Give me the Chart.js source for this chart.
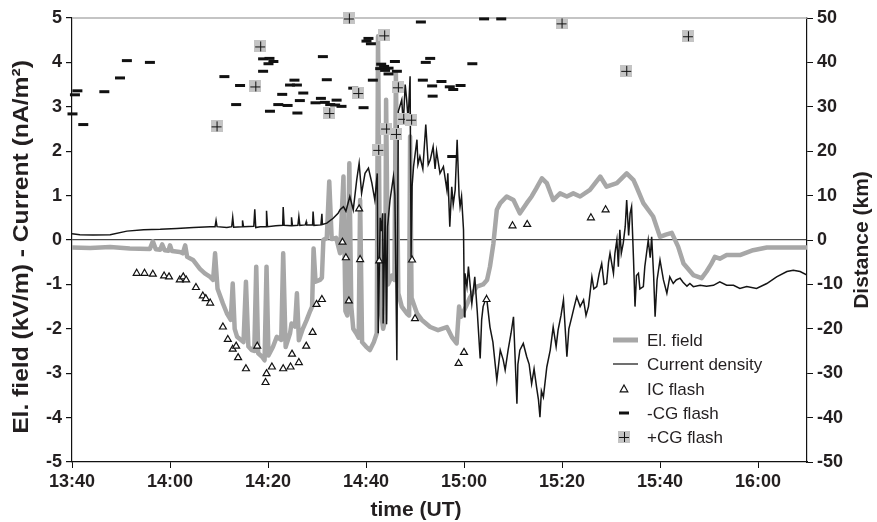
<!DOCTYPE html>
<html>
<head>
<meta charset="utf-8">
<title>El. field and current density</title>
<script src="https://cdn.jsdelivr.net/npm/chart.js@4.4.1/dist/chart.umd.min.js"></script>
<style>
  html, body { margin: 0; padding: 0; background: #fff; }
  #wrap { width: 877px; height: 522px; position: relative; }
</style>
</head>
<body>
<div id="wrap"><canvas id="mycanvas"></canvas></div>
<script>
// time is kept as minutes after 13:40 UT
var T0 = 13 * 60 + 40;
var timeTicks = [0, 20, 40, 60, 80, 100, 120, 140];

// electric field (kV/m)
var fieldTime = [0, 3.7, 7.8, 11.8, 15.9, 16.5, 17.1, 18.0, 18.4, 18.9, 19.7, 20.0, 20.4, 22.0, 22.6, 23.1, 23.5,
  24.7, 26.1, 27.1, 28.2, 28.8, 29.2, 29.7, 30.8, 31.6, 32.4, 32.8, 33.2, 33.7, 35.0, 35.5, 36.0, 36.7, 37.2,
  37.6, 38.0, 38.8, 39.3, 39.7, 40.1, 41.0, 41.8, 42.7, 43.1, 43.6, 44.5, 44.8, 45.5, 45.9, 46.3, 47.1, 47.9,
  48.6, 49.0, 49.3, 49.7, 50.6, 51.0, 51.3, 52.0, 52.5, 53.0, 53.9, 54.7, 55.4, 55.8, 56.2, 56.6, 57.0, 57.4,
  58.0, 58.5, 58.8, 59.2, 60.0, 60.8, 61.6, 62.2, 62.45, 62.9, 63.5, 63.9, 64.1, 64.5, 65.3, 65.8, 66.1, 66.6,
  67.3, 68.3, 68.8, 69.0, 69.3, 69.7, 70.4, 71.4, 73.1, 74.7, 76.5, 77.6, 78.5, 79.0, 79.4, 80.4, 81.2, 82.6,
  83.9, 84.7, 85.3, 86.0, 86.7, 87.4, 88.7, 90.1, 91.4, 92.8, 93.8, 94.7, 95.9, 96.9, 98.2, 99.6, 101.0, 102.3,
  103.7, 105.7, 107.8, 109.1, 111.2, 113.2, 114.6, 115.2, 116.6, 118.6, 120.0, 121.2, 122.4, 123.7, 124.8,
  126.8, 128.5, 129.5, 130.4, 131.2, 132.2, 133.6, 136.3, 139.0, 141.8, 145.7, 150];
var fieldValue = [-0.17, -0.18, -0.16, -0.19, -0.2, -0.03, -0.21, -0.22, -0.1, -0.23, -0.24, -0.12, -0.25, -0.27, -0.3, -0.12, -0.38,
  -0.45, -0.65, -0.75, -0.83, -0.9, -0.3, -1.1, -1.43, -1.65, -1.8, -0.98, -2.0, -2.18, -2.3, -0.94, -2.4, -2.48, -2.5,
  -0.6, -2.55, -2.63, -2.71, -0.6, -2.6, -2.41, -2.18, -2.25, -0.3, -2.41, -2.1, -1.88, -1.95, -1.2, -2.26, -2.0, -1.8,
  -1.6, -1.5, -0.19, -0.94, -0.9, -0.85, 0.0, 0.05, 1.32, 0.02, 0.05, -0.3, 1.43, -1.6, -1.7, 1.73, -1.5, -2.0,
  -2.1, -2.2, 0.9, -2.3, -2.4, -2.48, -2.3, -2.1, 4.59, -1.5, -2.0, -1.8, 3.16, -1.0, -0.8, -0.9, 3.76, -1.2,
  -1.5, -1.65, -1.7, 2.33, -1.3, -1.43, -1.65, -1.8, -1.96, -2.03, -1.96, -2.2, -2.33, -1.5, -1.73, -1.5, -1.3, -1.05,
  -1.0, -0.9, -0.6, -0.08, 0.68, 0.83, 0.98, 0.9, 0.6, 0.83, 0.98, 1.15, 1.39, 1.28, 0.9, 1.05, 0.98, 1.05,
  0.98, 1.13, 1.43, 1.2, 1.28, 1.5, 1.35, 1.2, 0.83, 0.53, 0.07, 0.12, 0.16, -0.15, -0.53,
  -0.79, -0.86, -0.71, -0.55, -0.38, -0.42, -0.34, -0.34, -0.23, -0.17, -0.17, -0.17];

// current density (nA/m2)
var currentTime = [0, 1.6, 4.3, 7.8, 11.2, 14.6, 18.0, 21.4, 24.8, 28.2, 29.2, 29.4, 29.6, 31.6, 32.6, 32.8, 33.0,
  34.7, 34.8, 35.0, 37.1, 37.3, 37.5, 38.4, 39.6, 39.7, 39.9, 41.6, 43.0, 43.1, 43.3, 44.7, 44.8, 45.0, 46.1,
  46.3, 46.5, 47.6, 47.8, 47.9, 49.1, 49.2, 49.4, 50.8, 51.0, 51.1, 52.0, 53.3, 54.3, 54.7, 55.4, 55.9, 56.7,
  57.4, 58.1, 58.6, 59.1, 59.8, 60.5, 61.2, 61.8, 62.3, 62.5, 62.9, 63.1, 63.4, 63.5, 63.9, 64.2, 64.4, 64.9,
  65.6, 65.9, 66.3, 66.6, 67.3, 67.6, 68.0, 68.3, 68.6, 69.0, 69.2, 69.4, 69.7, 70.4, 70.6, 71.0, 71.6, 72.2,
  72.7, 73.1, 73.7, 74.1, 74.4, 75.1, 75.8, 76.5, 76.7, 77.1, 77.5, 77.8, 78.2, 78.6, 79.0, 79.2, 79.5, 79.9,
  80.1, 80.2, 80.6, 80.9, 81.6, 82.2, 82.7, 83.3, 83.6, 83.9, 84.6, 85.3, 85.9, 86.7, 87.4, 88.0, 88.4, 89.0,
  89.6, 90.1, 90.8, 91.0, 91.4, 92.1, 92.8, 93.3, 93.8, 94.3, 94.8, 95.2, 95.5, 95.8, 96.2, 96.9, 97.6, 98.2,
  98.8, 99.2, 99.8, 100.3, 101.0, 101.4, 102.0, 102.5, 103.0, 103.7, 104.4, 104.9, 105.4, 106.1, 106.5, 107.1,
  107.6, 108.1, 108.6, 109.1, 109.5, 109.8, 110.5, 110.8, 111.2, 111.5, 111.8, 112.1, 112.5, 112.9, 113.2,
  113.6, 113.9, 114.2, 114.6, 114.9, 115.2, 115.6, 115.9, 116.6, 116.9, 117.6, 118.0, 118.3, 118.7, 119.0,
  119.4, 120.0, 120.7, 121.4, 122.0, 122.7, 123.3, 124.1, 124.7, 125.5, 126.1, 126.8, 128.2, 129.5, 130.9,
  132.2, 133.6, 135.0, 136.3, 137.7, 139.7, 141.8, 143.8, 145.9, 147.2, 148.6, 150];
var currentValue = [0.14, 0.12, 0.11, 0.12, 0.2, 0.23, 0.24, 0.26, 0.28, 0.3, 0.3, 0.44, 0.3, 0.28, 0.3, 0.51, 0.29,
  0.3, 0.44, 0.3, 0.31, 0.69, 0.28, 0.3, 0.3, 0.66, 0.3, 0.32, 0.33, 0.74, 0.33, 0.32, 0.51, 0.32, 0.33,
  0.53, 0.33, 0.34, 0.41, 0.34, 0.34, 0.64, 0.33, 0.34, 0.59, 0.35, 0.38, 0.49, 0.6, 0.68, 0.75, 0.65, 0.98,
  0.68, 1.35, 1.73, 1.05, 1.5, 1.62, 1.28, 0.9, 1.5, -2.1, 0.5, 0.2, 0.6, -1.88, 0.6, -1.9, 0.3, 0.9,
  1.43, 1.0, -2.71, 2.9, 3.16, 2.6, 3.5, 3.16, 2.7, 3.69, -0.38, 1.2, 1.65, 2.26, 1.7, 1.88, 1.6, 2.6,
  1.7, 1.8, 2.1, 1.6, 2.0, 1.5, 1.65, 1.13, 1.5, 0.3, 1.2, 0.8, 1.13, 2.26, 1.0, 0.75, 0.98, 0.23,
  -1.73, -0.75, -1.05, -0.6, -1.43, -0.83, -1.6, -2.67, -1.8, -1.5, -1.28, -1.96, -2.3, -3.16, -2.48, -2.7, -2.93, -2.48,
  -2.1, -1.73, -3.69, -2.8, -2.48, -2.33, -2.63, -2.8, -3.24, -2.9, -3.31, -3.6, -3.99, -3.4, -3.54, -2.86, -2.48, -1.96,
  -2.4, -2.03, -1.7, -1.35, -2.63, -2.0, -1.73, -1.5, -1.28, -1.5, -1.35, -1.7, -1.5, -0.83, -1.1, -1.05,
  -0.75, -0.53, -1.0, -0.98, -0.5, -0.3, -0.75, -0.3, 0.0, -0.6, 0.23, -0.3, -0.07, 0.3, 0.9,
  0.1, 0.6, 0.75, -0.45, -1.5, -0.8, -0.75, -1.1, -1.05, -0.6, 0.0, -0.4, 0.07, -0.8, -1.73,
  -0.9, -0.45, -0.9, -1.2, -0.83, -0.98, -0.9, -0.86, -0.95, -1.04, -0.98, -1.05, -1.02, -1.04, -1.02,
  -0.94, -1.02, -1.02, -1.09, -1.05, -1.09, -0.98, -0.83, -0.71, -0.68, -0.71, -0.79];

// flash distances (km), right axis
var icTime = [13.2, 14.8, 16.5, 18.8, 19.8, 22.0, 22.7, 23.3, 25.3, 26.7, 27.3, 28.2, 30.8, 31.8, 32.8, 33.5,
  33.9, 35.5, 37.8, 39.7, 39.5, 40.8, 43.1, 44.6, 44.9, 46.3, 47.8, 49.1, 49.9, 51.0, 55.2, 55.9, 56.5, 58.6,
  58.8, 62.7, 69.4, 70.0, 80.0, 78.9, 84.6, 89.9, 92.9, 105.9, 108.9];
var icDistance = [-7.5, -7.5, -7.7, -8.1, -8.3, -9.0, -8.3, -9.0, -10.7, -12.6, -13.2, -14.2, -19.6, -22.4, -24.6, -23.9,
  -26.5, -29.0, -23.9, -30.1, -32.1, -28.6, -29.0, -28.6, -25.7, -27.6, -23.9, -20.8, -14.5, -13.4, -0.5, -4.0, -13.7, 7.0,
  -4.4, -4.7, -4.5, -17.7, -25.3, -27.8, -13.4, 3.2, 3.5, 5.0, 6.8];

var negCgTime = [0.1, 0.6, 1.1, 2.3, 6.6, 9.8, 11.2, 15.9, 31.1, 33.5, 34.3, 39.0, 40.3, 41.1, 40.1, 39.0, 40.4,
  42.1, 42.9, 44.0, 44.5, 45.4, 45.9, 46.0, 46.5, 47.2, 49.7, 50.8, 51.2, 52.0, 51.6, 52.7, 54.0, 53.7, 55.0,
  57.4, 59.5, 60.5, 60.1, 61.0, 61.4, 63.1, 63.7, 62.9, 64.6, 65.9, 66.3, 64.6, 63.9, 71.2, 71.6, 72.2, 73.1,
  73.5, 75.4, 73.6, 77.1, 77.8, 79.3, 81.7, 77.6, 84.1, 87.6];
var negCgDistance = [28.4, 32.7, 33.6, 26.0, 33.4, 36.5, 40.4, 40.0, 36.8, 30.5, 34.8, 40.8, 40.9, 40.2, 39.7, 38.0, 29.0,
  30.5, 32.8, 30.3, 34.9, 36.0, 34.9, 28.6, 31.4, 33.1, 30.9, 31.9, 41.3, 36.1, 31.0, 30.5, 31.5, 30.4, 30.1,
  34.2, 29.8, 45.4, 44.8, 44.2, 36.0, 39.6, 39.1, 38.6, 38.7, 40.2, 38.0, 37.4, 38.2, 49.1, 36.0, 40.0, 40.9,
  34.7, 35.7, 32.4, 34.5, 33.9, 34.8, 39.7, 18.8, 49.8, 49.8];

var posCgTime = [29.5, 38.4, 37.4, 52.5, 56.5, 58.4, 63.7, 62.5, 64.1, 66.1, 66.5, 67.6, 69.2, 99.9, 113.1, 125.7];
var posCgDistance = [25.6, 43.6, 34.6, 28.6, 49.9, 33.1, 46.1, 20.3, 25.1, 23.9, 34.4, 27.3, 27.1, 48.8, 38.1, 45.9];

var legendLabels = ['El. field', 'Current density', 'IC flash', '-CG flash', '+CG flash'];

var FONT = '"Liberation Sans", Arial, Helvetica, sans-serif';
var INK = '#231f20';
var FIELD_GREY = '#a7a7a7';

function pairs(xs, ys) {
  return xs.map(function(x, i) { return { x: x, y: ys[i] }; });
}

function clock(v) {
  var m = T0 + v;
  var h = Math.floor(m / 60), mm = Math.round(m % 60);
  return h + ':' + (mm < 10 ? '0' : '') + mm;
}

// grey box with a cross for +CG flashes
function makePlusBox(size) {
  var c = document.createElement('canvas');
  c.width = size; c.height = size;
  var g = c.getContext('2d');
  g.fillStyle = '#c4c4c4';
  g.fillRect(0, 0, size, size);
  g.strokeStyle = '#111';
  g.lineWidth = 1;
  var m = Math.floor(size / 2) + 0.5;
  g.beginPath();
  g.moveTo(1, m); g.lineTo(size - 1, m);
  g.moveTo(m, 1); g.lineTo(m, size - 1);
  g.stroke();
  return c;
}
var plusBox = makePlusBox(12);

function drawTriangle(ctx, x, y, r) {
  ctx.beginPath();
  ctx.moveTo(x, y - r);
  ctx.lineTo(x + r * 0.95, y + r * 0.7);
  ctx.lineTo(x - r * 0.95, y + r * 0.7);
  ctx.closePath();
  ctx.fillStyle = '#fff';
  ctx.fill();
  ctx.strokeStyle = '#111';
  ctx.lineWidth = 1.2;
  ctx.stroke();
}

// axis titles, top frame line and the in-plot legend
var decorations = {
  id: 'decorations',
  beforeDatasetsDraw: function(chart) {
    var ctx = chart.ctx, a = chart.chartArea;
    ctx.save();
    ctx.strokeStyle = '#b0b0b0';
    ctx.lineWidth = 1.5;
    ctx.beginPath();
    ctx.moveTo(a.left, a.top);
    ctx.lineTo(a.right, a.top);
    ctx.stroke();
    ctx.restore();
  },
  afterDraw: function(chart) {
    var ctx = chart.ctx;
    ctx.save();
    ctx.fillStyle = INK;
    ctx.font = 'bold 21px ' + FONT;
    ctx.textAlign = 'center';
    ctx.textBaseline = 'middle';
    ctx.fillText('time (UT)', 416, 510);

    ctx.save();
    ctx.translate(22, 247);
    ctx.rotate(-Math.PI / 2);
    ctx.scale(1.12, 1);
    ctx.font = 'bold 22px ' + FONT;
    ctx.fillText('El. field (kV/m) - Current (nA/m\u00b2)', 0, 0);
    ctx.restore();

    ctx.save();
    ctx.translate(862, 240);
    ctx.rotate(-Math.PI / 2);
    ctx.fillText('Distance (km)', 0, 0);
    ctx.restore();

    // legend
    var lx = 613, tx = 647, rows = [340, 364, 389, 413, 437];
    ctx.strokeStyle = FIELD_GREY;
    ctx.lineWidth = 5;
    ctx.beginPath(); ctx.moveTo(lx, rows[0]); ctx.lineTo(lx + 25, rows[0]); ctx.stroke();
    ctx.strokeStyle = '#111';
    ctx.lineWidth = 1.2;
    ctx.beginPath(); ctx.moveTo(lx, rows[1]); ctx.lineTo(lx + 25, rows[1]); ctx.stroke();
    drawTriangle(ctx, lx + 11, rows[2], 4);
    ctx.lineWidth = 3;
    ctx.beginPath(); ctx.moveTo(lx + 6, rows[3]); ctx.lineTo(lx + 16, rows[3]); ctx.stroke();
    ctx.drawImage(plusBox, lx + 5, rows[4] - 6);

    ctx.fillStyle = INK;
    ctx.font = '17px ' + FONT;
    ctx.textAlign = 'left';
    legendLabels.forEach(function(t, i) { ctx.fillText(t, tx, rows[i] + 1); });
    ctx.restore();
  }
};

var tickFont = { family: FONT, size: 18, weight: 'bold' };

var chartdata = {
  datasets: [
    {
      label: '+CG flash', yAxisID: 'y2', data: pairs(posCgTime, posCgDistance),
      pointStyle: plusBox, pointRadius: 6, showLine: false, clip: false
    },
    {
      label: '-CG flash', yAxisID: 'y2', data: pairs(negCgTime, negCgDistance),
      pointStyle: 'line', pointRadius: 5, pointBorderWidth: 3, borderColor: '#111',
      backgroundColor: '#111', showLine: false, clip: false
    },
    {
      label: 'IC flash', yAxisID: 'y2', data: pairs(icTime, icDistance),
      pointStyle: 'triangle', pointRadius: 4, pointBorderWidth: 1.2, borderColor: '#111',
      backgroundColor: '#fff', showLine: false, clip: false
    },
    {
      label: 'Current density', yAxisID: 'y', data: pairs(currentTime, currentValue),
      showLine: true, borderColor: '#151515', borderWidth: 1.5, pointRadius: 0, tension: 0
    },
    {
      label: 'El. field', yAxisID: 'y', data: pairs(fieldTime, fieldValue),
      showLine: true, borderColor: FIELD_GREY, borderWidth: 4.5, pointRadius: 0, tension: 0,
      borderJoinStyle: 'round', borderCapStyle: 'round'
    }
  ]
};

var ctx = document.getElementById('mycanvas');

var graph = new Chart(ctx, {
  type: 'scatter',
  data: chartdata,
  plugins: [decorations],
  options: {
    responsive: true,
    maintainAspectRatio: false,
    animation: false,
    layout: { padding: { top: 18, left: 0, right: 0, bottom: 0 } },
    plugins: { legend: { display: false }, tooltip: { enabled: false } },
    scales: {
      x: {
        type: 'linear', min: 0, max: 150,
        afterBuildTicks: function(s) { s.ticks = timeTicks.map(function(v) { return { value: v }; }); },
        afterFit: function(s) { s.height = 60; },
        ticks: { font: tickFont, color: INK, padding: 3, maxRotation: 0, autoSkip: false,
          callback: function(v) { return clock(v); } },
        grid: { drawOnChartArea: false, color: '#111', tickLength: 6 },
        border: { color: '#111', width: 1.2 }
      },
      y: {
        position: 'left', min: -5, max: 5,
        afterFit: function(s) { s.width = 72; },
        ticks: { stepSize: 1, font: tickFont, color: INK, padding: 4 },
        grid: {
          drawOnChartArea: true, tickLength: 6, tickColor: '#111', lineWidth: 1.2,
          color: function(c) { return c.tick && c.tick.value === 0 ? '#4a4a4a' : 'rgba(0,0,0,0)'; }
        },
        border: { color: '#111', width: 1.2 }
      },
      y2: {
        position: 'right', min: -50, max: 50,
        afterFit: function(s) { s.width = 70; },
        ticks: { stepSize: 10, font: tickFont, color: INK, padding: 4 },
        grid: { drawOnChartArea: false, color: '#111', tickLength: 6 },
        border: { color: '#111', width: 1.2 }
      }
    }
  }
});
</script>
</body>
</html>
